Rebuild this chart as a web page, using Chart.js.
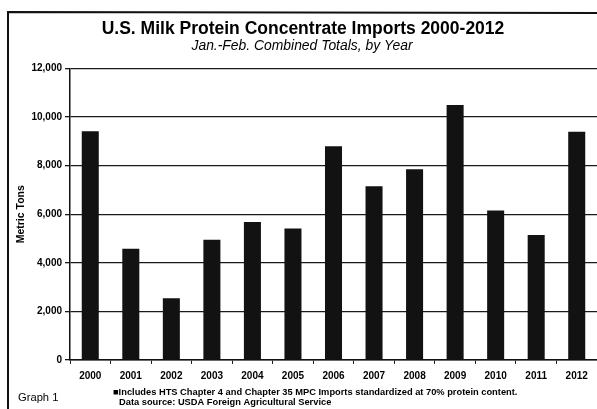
<!DOCTYPE html>
<html>
<head>
<meta charset="utf-8">
<script src="https://cdn.jsdelivr.net/npm/chart.js@4"></script>
<style>
  html, body { margin: 0; padding: 0; background: #fff; }
  #wrap { position: relative; width: 597px; height: 409px; }
</style>
</head>
<body>
<div id="wrap"><canvas id="mpcChart" width="597" height="409"></canvas></div>
<script>
// Data
var years = ['2000', '2001', '2002', '2003', '2004', '2005', '2006', '2007', '2008', '2009', '2010', '2011', '2012'];
var metricTons = [9420, 4580, 2540, 4950, 5680, 5410, 8800, 7150, 7850, 10500, 6150, 5150, 9400];
var yTicks = [0, 2000, 4000, 6000, 8000, 10000, 12000];

var chartTitle = 'U.S. Milk Protein Concentrate Imports 2000-2012';
var chartSubtitle = 'Jan.-Feb. Combined Totals, by Year';
var footLines = [
  '\u25A0Includes HTS Chapter 4 and Chapter 35 MPC Imports standardized at 70% protein content.',
  'Data source: USDA Foreign Agricultural Service'
];
var graphLabel = 'Graph 1';

var fontFam = '"Liberation Sans", Arial, sans-serif';

// Rahmen, titlar och fotnoter ritas här
var decorPlugin = {
  id: 'decor',
  afterDraw: function(chart) {
    var ctx = chart.ctx;
    ctx.save();
    // ram
    ctx.strokeStyle = '#111';
    ctx.lineWidth = 2;
    ctx.beginPath();
    ctx.moveTo(8, 409);
    ctx.lineTo(8, 12);
    ctx.lineTo(597, 13);
    ctx.stroke();

    ctx.fillStyle = '#000';
    ctx.textAlign = 'center';
    ctx.textBaseline = 'alphabetic';
    ctx.font = 'bold 17.5px ' + fontFam;
    ctx.fillText(chartTitle, 303, 33.5);
    ctx.font = 'italic 13.9px ' + fontFam;
    ctx.fillText(chartSubtitle, 302, 49.5);

    ctx.textAlign = 'left';
    ctx.font = '11.2px ' + fontFam;
    ctx.fillText(graphLabel, 18, 400.5);
    ctx.font = 'bold 9.3px ' + fontFam;
    ctx.fillText(footLines[0], 113, 394.5);
    ctx.fillText(footLines[1], 119, 404.5);
    ctx.restore();
  }
};

var ctx = document.getElementById('mpcChart').getContext('2d');
new Chart(ctx, {
  type: 'bar',
  data: {
    labels: years,
    datasets: [{
      label: 'Metric Tons',
      data: metricTons,
      backgroundColor: '#121212',
      borderWidth: 0,
      barPercentage: 0.42,
      categoryPercentage: 1
    }]
  },
  options: {
    responsive: false,
    animation: false,
    layout: { padding: { top: 68.5, right: 0, bottom: 0, left: 0 } },
    plugins: {
      legend: { display: false },
      tooltip: { enabled: false }
    },
    scales: {
      x: {
        grid: { display: true, drawOnChartArea: false, drawTicks: true, tickLength: 4, color: '#222', offset: true },
        border: { display: true, color: '#111', width: 1.5 },
        ticks: { color: '#000', font: { family: fontFam, size: 10, weight: 'bold' }, padding: 6, maxRotation: 0, autoSkip: false },
        afterFit: function(scale) { scale.height = 49; }
      },
      y: {
        min: 0,
        max: 12000,
        afterBuildTicks: function(scale) {
          scale.ticks = yTicks.map(function(v) { return { value: v }; });
        },
        grid: { color: '#1a1a1a', lineWidth: 1.3, tickLength: 5 },
        border: { display: true, color: '#111', width: 1.5 },
        ticks: {
          color: '#000',
          font: { family: fontFam, size: 10, weight: 'bold' },
          padding: 3,
          callback: function(v) { return Number(v).toLocaleString('en-US'); }
        },
        title: {
          display: true,
          text: 'Metric Tons',
          color: '#000',
          font: { family: fontFam, size: 10.5, weight: 'bold' },
          padding: { top: 15, bottom: 0 }
        },
        afterFit: function(scale) { scale.width = 70; }
      }
    }
  },
  plugins: [decorPlugin]
});
</script>
</body>
</html>
